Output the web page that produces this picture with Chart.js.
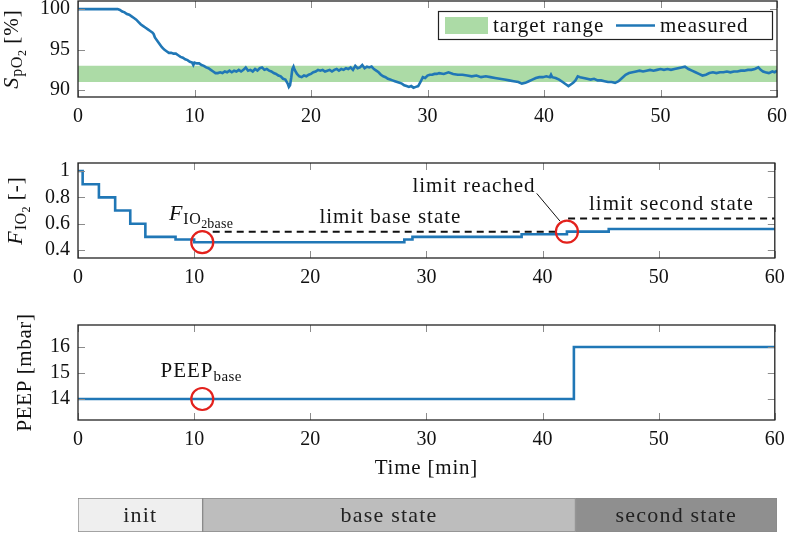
<!DOCTYPE html>
<html><head><meta charset="utf-8">
<script src="https://cdn.jsdelivr.net/npm/chart.js@4.4.1/dist/chart.umd.min.js"></script>
<style>
html,body{margin:0;padding:0;background:#fff;}
#wrap{position:relative;width:788px;height:533px;overflow:hidden;background:#fff;}
canvas{position:absolute;left:0;}
</style></head><body>
<div id="wrap">
<canvas id="c1" width="788" height="130" style="top:0px;width:788px;height:130px"></canvas>
<canvas id="c2" width="788" height="150" style="top:140px;width:788px;height:150px"></canvas>
<canvas id="c3" width="788" height="180" style="top:300px;width:788px;height:180px"></canvas>
<canvas id="c4" width="788" height="43" style="top:490px;width:788px;height:43px"></canvas>
</div>
<script>
// ---------------- data ----------------
const timeTicks = [0, 10, 20, 30, 40, 50, 60];
const spo2Ticks = [90, 95, 100];
const fio2Ticks = [0.4, 0.6, 0.8, 1];
const peepTicks = [14, 15, 16];

const spo2Time = [0,3.4,3.6,3.8,4.0,4.2,4.4,4.6,4.8,5.0,5.2,5.4,5.6,5.8,6.0,6.2,6.4,6.5,6.6,6.8,7.0,7.2,7.4,7.6,7.8,8.0,8.2,8.4,8.6,8.8,9.0,9.2,9.4,9.6,9.8,9.9,10.0,10.2,10.4,10.6,10.8,11.0,11.2,11.4,11.6,11.8,12.0,12.2,12.4,12.6,12.8,13.0,13.2,13.4,13.6,13.8,14.0,14.2,14.4,14.6,14.8,15.0,15.2,15.4,15.6,15.8,16.0,16.2,16.4,16.6,16.8,17.0,17.2,17.4,17.6,17.8,18.0,18.1,18.2,18.3,18.4,18.5,18.6,18.8,19.0,19.2,19.4,19.6,19.8,20.0,20.2,20.4,20.6,20.8,21.0,21.2,21.4,21.6,21.8,22.0,22.2,22.4,22.6,22.8,23.0,23.2,23.4,23.6,23.8,24.0,24.2,24.4,24.6,24.8,25.0,25.2,25.4,25.6,25.8,26.0,26.2,26.4,26.6,26.8,27.0,27.2,27.4,27.6,27.8,28.0,28.2,28.4,28.6,28.8,29.0,29.2,29.4,29.6,29.8,30.0,30.2,30.4,30.6,30.8,31.0,31.4,31.8,32.2,32.6,33.0,33.4,33.8,34.2,34.6,35.0,35.4,35.8,36.2,36.6,37.0,37.4,37.8,38.1,38.4,38.7,39.0,39.3,39.6,39.9,40.2,40.5,40.6,40.7,41.0,41.3,41.6,41.9,42.1,42.3,42.5,42.7,42.9,43.1,43.4,43.7,44.0,44.3,44.6,44.9,45.2,45.5,45.8,46.1,46.4,46.7,47.0,47.3,47.6,47.9,48.2,48.5,48.8,49.1,49.4,49.7,50.0,50.3,50.6,50.9,51.2,51.5,51.8,52.1,52.4,52.7,53.0,53.3,53.6,53.9,54.2,54.5,54.8,55.1,55.4,55.7,56.0,56.3,56.6,56.9,57.2,57.5,57.8,58.1,58.4,58.6,58.8,59.0,59.3,59.6,59.8,60.0];
const spo2Values = [100,100,99.9,99.7,99.6,99.4,99.3,99.1,98.9,98.7,98.4,98.1,97.9,97.7,97.5,97.3,97.1,96.9,96.5,96.1,95.7,95.3,95.0,94.8,94.6,94.6,94.5,94.5,94.3,94.1,94.0,93.8,93.7,93.5,93.4,93.1,93.4,93.3,93.3,93.1,93.0,92.8,92.7,92.5,92.3,92.1,92.1,92.2,92.1,92.3,92.2,92.4,92.2,92.4,92.3,92.5,92.3,92.5,92.8,92.4,92.5,92.3,92.6,92.4,92.7,92.8,92.5,92.6,92.4,92.3,92.1,92.0,91.8,91.7,91.4,91.3,90.8,90.4,90.6,91.5,92.6,92.9,92.5,92.0,91.7,91.6,91.8,91.7,91.9,92.0,92.2,92.3,92.5,92.4,92.5,92.3,92.4,92.5,92.3,92.5,92.6,92.4,92.6,92.5,92.7,92.6,92.8,92.5,93.0,92.7,92.8,93.1,92.7,92.9,92.8,92.9,92.6,92.4,92.2,91.9,91.7,91.6,91.4,91.3,91.2,91.1,91.0,90.9,90.8,90.6,90.5,90.4,90.5,90.3,90.4,90.5,91.0,91.6,91.5,91.8,91.9,91.9,92.0,92.0,92.1,92.0,92.2,92.0,91.9,91.9,91.8,91.7,91.8,91.6,91.7,91.6,91.5,91.4,91.3,91.2,91.1,91.0,90.8,90.9,91.1,91.3,91.5,91.6,91.6,91.7,91.6,91.9,91.6,91.5,91.3,91.0,90.7,90.5,90.7,90.9,91.2,91.7,91.6,91.5,91.4,91.3,91.4,91.2,91.2,91.1,91.0,91.0,90.9,91.1,91.5,91.9,92.1,92.2,92.3,92.4,92.3,92.4,92.5,92.4,92.5,92.6,92.5,92.6,92.5,92.6,92.7,92.8,92.9,92.6,92.4,92.2,92.0,91.8,91.9,92.1,92.2,92.1,92.2,92.2,92.3,92.2,92.3,92.3,92.4,92.4,92.5,92.5,92.6,92.8,92.5,92.3,92.2,92.1,92.3,92.2,92.4];
const targetRange = [91, 93];

const fio2Time = [0, 0.4, 1.8, 3.2, 4.5, 5.8, 8.4, 10.0, 28.1, 28.8, 38.2, 42.1, 45.7, 60];
const fio2Values = [1, 0.9, 0.8, 0.7, 0.6, 0.5, 0.48, 0.46, 0.48, 0.5, 0.52, 0.54, 0.56, 0.56];
const limitBaseTime = [11.6, 41.4];
const limitBaseValues = [0.54, 0.54];
const limitSecondTime = [42.2, 60];
const limitSecondValues = [0.64, 0.64];

const peepTime = [0, 42.7, 60];
const peepValues = [14, 16, 16];

const fio2MarkerTime = [10.7, 42.1];
const fio2MarkerValues = [0.46, 0.54];
const peepMarkerTime = [10.7];
const peepMarkerValues = [14];

const stateNames = ['init', 'base state', 'second state'];
const stateBounds = [0, 10.7, 42.7, 60];

// ---------------- styling ----------------
const FONT = '"Liberation Serif","DejaVu Serif",serif';
const BLUE = '#2077b6';
const RED = '#e3211c';
const GREEN = '#acdba6';
const TXT = '#111';
const stateColors = ['#efefef', '#bdbdbd', '#8f8f8f'];

Chart.defaults.font.family = FONT;
Chart.defaults.font.size = 20;
Chart.defaults.color = TXT;

const pts = (xs, ys) => xs.map((x, i) => ({x: x, y: ys[i]}));

function fontStr(p){ return (p.italic ? 'italic ' : '') + (p.size || 21) + 'px ' + FONT; }
function setPart(ctx, p){
  ctx.font = fontStr(p);
  ctx.letterSpacing = (p.ls !== undefined ? p.ls : ((p.size || 21) >= 18 ? 1 : 0)) + 'px';
}
function richWidth(ctx, parts){
  let w = 0;
  parts.forEach(p => { setPart(ctx, p); w += ctx.measureText(p.t).width; });
  return w;
}
function drawRich(ctx, parts, x, y){
  let cx = x;
  ctx.textAlign = 'left';
  ctx.textBaseline = 'alphabetic';
  parts.forEach(p => {
    setPart(ctx, p);
    ctx.fillText(p.t, cx, y + (p.dy || 0));
    cx += ctx.measureText(p.t).width;
  });
  ctx.letterSpacing = '0px';
}

function yTitle(parts, xBase){
  return {
    id: 'ytitle',
    afterDraw(chart){
      const a = chart.chartArea, ctx = chart.ctx;
      ctx.save();
      ctx.fillStyle = TXT;
      ctx.translate(xBase, (a.top + a.bottom) / 2);
      ctx.rotate(-Math.PI / 2);
      const w = richWidth(ctx, parts);
      drawRich(ctx, parts, -w / 2, 0);
      ctx.restore();
    }
  };
}
function xTitle(parts, yBase){
  return {
    id: 'xtitle',
    afterDraw(chart){
      const a = chart.chartArea, ctx = chart.ctx;
      ctx.save();
      ctx.fillStyle = TXT;
      const w = richWidth(ctx, parts);
      drawRich(ctx, parts, (a.left + a.right) / 2 - w / 2, yBase);
      ctx.restore();
    }
  };
}

const frame = {
  id: 'frame',
  afterDatasetsDraw(chart){
    const {ctx, chartArea: a, scales} = chart;
    ctx.save();
    ctx.strokeStyle = '#8c8c8c';
    ctx.lineWidth = 1;
    ctx.beginPath();
    scales.x.ticks.forEach(t => {
      const px = Math.round(scales.x.getPixelForValue(t.value)) + 0.5;
      ctx.moveTo(px, a.bottom); ctx.lineTo(px, a.bottom - 7);
      ctx.moveTo(px, a.top); ctx.lineTo(px, a.top + 7);
    });
    scales.y.ticks.forEach(t => {
      const py = Math.round(scales.y.getPixelForValue(t.value)) + 0.5;
      ctx.moveTo(a.left, py); ctx.lineTo(a.left + 7, py);
      ctx.moveTo(a.right, py); ctx.lineTo(a.right - 7, py);
    });
    ctx.stroke();
    ctx.strokeStyle = '#222';
    ctx.lineWidth = 1.3;
    ctx.strokeRect(a.left, a.top, a.right - a.left, a.bottom - a.top);
    ctx.restore();
  }
};

function xAxis(height){
  return {
    type: 'linear', min: 0, max: 60,
    grid: {display: false, drawTicks: false},
    border: {display: false},
    ticks: {padding: 8, autoSkip: false, maxRotation: 0, color: TXT, font: {size: 20}},
    afterBuildTicks: s => { s.ticks = timeTicks.map(v => ({value: v})); },
    afterFit: s => { s.height = height; s.paddingLeft = 0; s.paddingRight = 0; }
  };
}
function yAxis(min, max, tickList){
  return {
    type: 'linear', min: min, max: max,
    grid: {display: false, drawTicks: false},
    border: {display: false},
    ticks: {padding: 8, autoSkip: false, color: TXT, font: {size: 20}, callback: v => String(v)},
    afterBuildTicks: s => { s.ticks = tickList.map(v => ({value: v})); },
    afterFit: s => { s.width = 78; s.paddingTop = 0; s.paddingBottom = 0; }
  };
}
const basePlugins = {legend: {display: false}, tooltip: {enabled: false}};

// ---------------- chart 1: SpO2 ----------------
const legendBox = {
  id: 'legendBox',
  afterDraw(chart){
    const ctx = chart.ctx, a = chart.chartArea;
    const ds = chart.data.datasets;
    const meas = ds[0], band = ds[1];
    const w = 334, h = 28;
    const x = a.right - 5 - w, y = a.top + 10;
    ctx.save();
    ctx.fillStyle = '#fff';
    ctx.fillRect(x, y, w, h);
    ctx.strokeStyle = '#222'; ctx.lineWidth = 1.2;
    ctx.strokeRect(x + 0.5, y + 0.5, w, h);
    ctx.fillStyle = band.backgroundColor;
    ctx.fillRect(x + 7, y + 6, 43, 17);
    ctx.fillStyle = TXT;
    drawRich(ctx, [{t: band.label}], x + 55, y + 21);
    ctx.strokeStyle = meas.borderColor; ctx.lineWidth = 2.5;
    ctx.beginPath(); ctx.moveTo(x + 178, y + 14.5); ctx.lineTo(x + 217, y + 14.5); ctx.stroke();
    ctx.fillStyle = TXT;
    drawRich(ctx, [{t: meas.label}], x + 222, y + 21);
    ctx.restore();
  }
};

new Chart(document.getElementById('c1'), {
  type: 'line',
  data: {
    datasets: [
      {label: 'measured', order: 0, data: pts(spo2Time, spo2Values), borderColor: BLUE, borderWidth: 2.6, pointRadius: 0, tension: 0, fill: false},
      {label: 'target range', order: 1, data: pts([0, 60], [targetRange[1], targetRange[1]]), borderWidth: 0, pointRadius: 0, backgroundColor: GREEN, fill: {target: 2}},
      {label: '', order: 2, data: pts([0, 60], [targetRange[0], targetRange[0]]), borderWidth: 0, pointRadius: 0, fill: false}
    ]
  },
  options: {
    responsive: false, animation: false, devicePixelRatio: 1,
    layout: {padding: {left: 0, right: 11, top: 1, bottom: 0}},
    scales: {x: xAxis(33), y: yAxis(89.15, 101.0, spo2Ticks)},
    plugins: basePlugins
  },
  plugins: [frame, legendBox, yTitle([
    {t: 'S', italic: true, size: 22},
    {t: 'pO', size: 16, dy: 4, ls: 0.5},
    {t: '2', size: 12, dy: 8, ls: 0},
    {t: ' [%]', size: 21}
  ], 18)]
});

// ---------------- chart 2: FiO2 ----------------
const fio2Notes = {
  id: 'fio2Notes',
  afterDatasetsDraw(chart){
    const ctx = chart.ctx, sx = chart.scales.x, sy = chart.scales.y;
    ctx.save();
    ctx.fillStyle = TXT;
    const put = (parts, xv, yv) => {
      const w = richWidth(ctx, parts);
      drawRich(ctx, parts, sx.getPixelForValue(xv) - w / 2, sy.getPixelForValue(yv));
    };
    put([{t: 'F', italic: true, size: 22}, {t: 'IO', size: 16, dy: 4, ls: 0.5}, {t: '2', size: 12, dy: 8, ls: 0}, {t: 'base', size: 14, dy: 8, ls: 0.3}], 10.6, 0.628);
    put([{t: 'limit base state'}], 26.9, 0.607);
    put([{t: 'limit reached'}], 34.1, 0.84);
    put([{t: 'limit second state'}], 51.1, 0.704);
    ctx.strokeStyle = '#111'; ctx.lineWidth = 1;
    ctx.beginPath();
    ctx.moveTo(sx.getPixelForValue(39.5), sy.getPixelForValue(0.83));
    ctx.lineTo(sx.getPixelForValue(41.5), sy.getPixelForValue(0.62));
    ctx.stroke();
    ctx.restore();
  }
};

new Chart(document.getElementById('c2'), {
  type: 'line',
  data: {
    datasets: [
      {label: 'markers', order: 0, data: pts(fio2MarkerTime, fio2MarkerValues), showLine: false, pointRadius: 11, pointBorderWidth: 2.2, pointBorderColor: RED, pointBackgroundColor: 'rgba(0,0,0,0)', borderColor: RED, backgroundColor: 'rgba(0,0,0,0)', clip: false},
      {label: 'FiO2', order: 1, data: pts(fio2Time, fio2Values), borderColor: BLUE, borderWidth: 2.6, pointRadius: 0, stepped: 'before', fill: false},
      {label: 'limit base', order: 2, data: pts(limitBaseTime, limitBaseValues), borderColor: '#111', borderWidth: 2, borderDash: [7, 5], pointRadius: 0, fill: false},
      {label: 'limit second', order: 3, data: pts(limitSecondTime, limitSecondValues), borderColor: '#111', borderWidth: 2, borderDash: [7, 5], pointRadius: 0, fill: false}
    ]
  },
  options: {
    responsive: false, animation: false, devicePixelRatio: 1,
    layout: {padding: {left: 0, right: 11, top: 23, bottom: 0}},
    scales: {x: xAxis(32), y: yAxis(0.34, 1.061, fio2Ticks)},
    plugins: basePlugins
  },
  plugins: [frame, fio2Notes, yTitle([
    {t: 'F', italic: true, size: 22},
    {t: 'IO', size: 16, dy: 4, ls: 0.5},
    {t: '2', size: 12, dy: 8, ls: 0},
    {t: ' [-]', size: 21}
  ], 22)]
});

// ---------------- chart 3: PEEP ----------------
const peepNotes = {
  id: 'peepNotes',
  afterDatasetsDraw(chart){
    const ctx = chart.ctx, sx = chart.scales.x, sy = chart.scales.y;
    ctx.save();
    ctx.fillStyle = TXT;
    const parts = [{t: 'PEEP'}, {t: 'base', size: 15, dy: 4, ls: 0.4}];
    const w = richWidth(ctx, parts);
    drawRich(ctx, parts, sx.getPixelForValue(10.6) - w / 2, sy.getPixelForValue(14.85));
    ctx.restore();
  }
};

new Chart(document.getElementById('c3'), {
  type: 'line',
  data: {
    datasets: [
      {label: 'marker', order: 0, data: pts(peepMarkerTime, peepMarkerValues), showLine: false, pointRadius: 11, pointBorderWidth: 2.2, pointBorderColor: RED, pointBackgroundColor: 'rgba(0,0,0,0)', clip: false},
      {label: 'PEEP', order: 1, data: pts(peepTime, peepValues), borderColor: BLUE, borderWidth: 2.6, pointRadius: 0, stepped: 'before', fill: false}
    ]
  },
  options: {
    responsive: false, animation: false, devicePixelRatio: 1,
    layout: {padding: {left: 0, right: 11, top: 25, bottom: 0}},
    scales: {x: xAxis(60), y: yAxis(13.19, 16.85, peepTicks)},
    plugins: basePlugins
  },
  plugins: [frame, peepNotes, yTitle([{t: 'PEEP [mbar]', ls: 0.6}], 31), xTitle([{t: 'Time [min]', ls: 0.8}], 174)]
});

// ---------------- chart 4: states ----------------
const stateLabels = {
  id: 'stateLabels',
  afterDatasetsDraw(chart){
    const ctx = chart.ctx;
    ctx.save();
    ctx.fillStyle = '#222';
    chart.data.datasets.forEach((ds, i) => {
      const el = chart.getDatasetMeta(i).data[0];
      const c = el.getCenterPoint();
      const parts = [{t: ds.label, size: 22, ls: 1.2}];
      const w = richWidth(ctx, parts);
      drawRich(ctx, parts, c.x - w / 2, c.y + 7);
    });
    ctx.restore();
  }
};

new Chart(document.getElementById('c4'), {
  type: 'bar',
  data: {
    labels: ['phase'],
    datasets: stateNames.map((n, i) => ({
      label: n,
      data: [[stateBounds[i], stateBounds[i + 1]]],
      backgroundColor: stateColors[i],
      borderColor: '#8a8a8a',
      borderWidth: 1,
      borderSkipped: false,
      barPercentage: 1,
      categoryPercentage: 1,
      grouped: false
    }))
  },
  options: {
    indexAxis: 'y',
    responsive: false, animation: false, devicePixelRatio: 1,
    layout: {padding: {left: 78, right: 11, top: 8, bottom: 1}},
    scales: {x: {display: false, min: 0, max: 60}, y: {display: false}},
    plugins: basePlugins
  },
  plugins: [stateLabels]
});
</script>
</body></html>
